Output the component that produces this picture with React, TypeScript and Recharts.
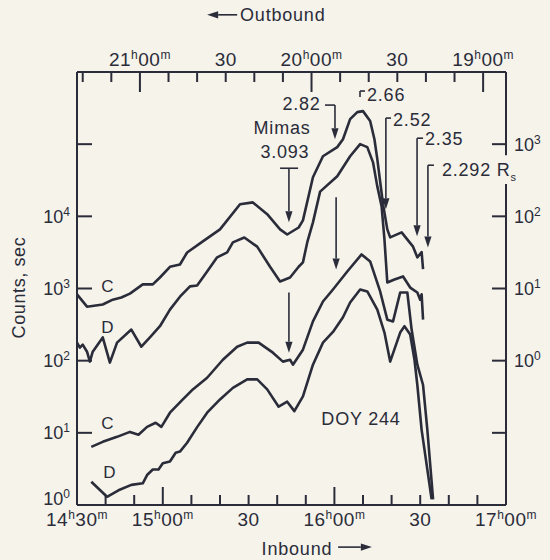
import React from 'react';
import { LineChart, Line, XAxis, YAxis, ReferenceLine, ReferenceDot } from 'recharts';

const INK = '#2b2c3a';
const PAPER = '#f5f3ea';
const FONT = '"Liberation Sans", Arial, sans-serif';

// inbound time in minutes after 00h (UT), counts per second
const upperCTimes = [870, 873.5, 879, 882.5, 885.5, 888.5, 893, 896.5, 899, 902.5, 906, 908.5, 914, 920, 927, 931.5, 936.5, 941, 943.5, 947.5, 949, 952.5, 956, 961, 963, 965.5, 968, 970, 972.5, 974, 975, 977, 978.5, 979.5, 983.5, 987.5, 989, 990.5, 991];
const upperCCounts = [830, 560, 600, 700, 750, 850, 1140, 1140, 1420, 2000, 2150, 3150, 4500, 6600, 14700, 15600, 10700, 6600, 5600, 7000, 8800, 34800, 68000, 91000, 117000, 222000, 278000, 287000, 209000, 117000, 62000, 14700, 6600, 5100, 6000, 3800, 2700, 3200, 1850];

const upperDTimes = [870, 871, 872, 873.5, 874.5, 875.5, 879, 881.5, 884, 889, 892.5, 895.5, 899, 902.5, 906, 909.5, 912, 915.5, 919, 922.5, 924.5, 928.5, 933, 937.5, 941, 944.5, 947.5, 949, 950.5, 952.5, 955, 961, 965.5, 969, 971.5, 973.5, 975, 976.5, 977.5, 978.5, 981, 984, 986.5, 989, 990, 990.5, 991];
const upperDCounts = [178, 152, 167, 133, 97, 133, 210, 94, 178, 270, 156, 210, 300, 510, 770, 1070, 1100, 1720, 2700, 3160, 4350, 5100, 3800, 2000, 1250, 1420, 2000, 2300, 4350, 8250, 22000, 36000, 68000, 100000, 91000, 56000, 26000, 13800, 4800, 1210, 1330, 1470, 1030, 880, 700, 830, 370];

const lowerCTimes = [875, 879, 884, 888.5, 891.5, 894.5, 897.5, 899.5, 902.5, 907, 910.5, 915.5, 921, 926, 929.5, 933.5, 938.5, 942, 944.5, 945.5, 949, 952.5, 956, 959.5, 964.5, 969.5, 972.5, 976, 978.5, 980.5, 983, 985.5, 987, 989, 991, 992.5, 994.5];
const lowerCCounts = [6.4, 7.5, 8.8, 10.3, 9.4, 12.1, 13.8, 12.1, 19, 29, 40, 58, 103, 156, 178, 178, 129, 97, 103, 88, 142, 350, 660, 970, 1720, 2970, 2370, 910, 370, 350, 880, 880, 270, 88, 46, 11, 1.2];

const lowerDTimes = [875, 880.5, 884.5, 889, 893, 894.5, 896.5, 898.5, 900, 902.5, 904.5, 906, 908.5, 912, 915.5, 920, 924.5, 929.5, 933, 936.5, 940.5, 943.5, 946, 949, 952.5, 956, 959.5, 963, 965.5, 969, 971.5, 975, 977.5, 979.5, 983, 984.5, 986.5, 988, 989, 990.5, 994];
const lowerDCounts = [2.1, 1.3, 1.6, 1.9, 2.0, 2.6, 3.1, 3.1, 3.8, 4.0, 5.3, 5.5, 7.3, 12, 19, 29, 42, 55, 55, 40, 23, 27, 20, 32, 88, 178, 250, 400, 640, 970, 910, 510, 245, 97, 245, 300, 230, 103, 46, 11, 1.2];

// axes: inbound (bottom) and outbound (top, running backwards)
const bottomTicks = [870, 880, 890, 900, 910, 920, 930, 940, 950, 960, 970, 980, 990, 1000, 1010, 1020];
const bottomLabelTimes = [870, 900, 930, 960, 990, 1020];
const bottomLabels = ['14h30m', '15h00m', '30', '16h00m', '30', '17h00m'];
const bottomMajor = [900, 960];

const topTicks = [1140, 1150, 1160, 1170, 1180, 1190, 1200, 1210, 1220, 1230, 1240, 1250, 1260, 1270, 1280];
const topLabelTimes = [1260, 1230, 1200, 1170, 1140];
const topLabels = ['21h00m', '30', '20h00m', '30', '19h00m'];
const topMajor = [1260, 1200, 1140];
// outbound time at the left edge of the frame; inbound runs 870..1020 across it
const topStart = 1282;
const inStart = 870;
const inEnd = 1020;
const toInbound = (tOut: number) => inStart + (topStart - tOut);

const leftTicks = [1, 10, 100, 1000, 10000, 100000];
const leftLabelled = [1, 10, 100, 1000, 10000];
const rightTicks = [0.1, 1, 10, 100, 1000];
const rightLabelled = [1, 10, 100, 1000];

// annotations [t1, c1, t2, c2, arrowhead]
const arrows: [number, number, number, number, boolean][] = [
  [941, 46400, 947.3, 46400, false],
  [944.1, 46400, 944.1, 8250, true],
  [956.7, 348000, 960.2, 348000, false],
  [960.2, 348000, 960.2, 117000, true],
  [968.95, 450000, 968.95, 545000, false],
  [968.95, 545000, 970.7, 545000, false],
  [978, 230000, 979.8, 230000, false],
  [978, 230000, 978, 12500, true],
  [988.9, 121000, 991, 121000, false],
  [988.9, 121000, 988.9, 5280, true],
  [992.7, 51100, 994.8, 51100, false],
  [992.7, 51100, 992.7, 3710, true],
  [960.6, 18400, 960.6, 1840, true],
  [944.1, 880, 944.1, 129, true],
  [961.3, 0.261, 973.1, 0.261, true],
  [926, 6.2e6, 915.5, 6.2e6, true],
];

const notes: { t: number; c: number; text: string; anchor?: string; size?: number }[] = [
  { t: 941.7, c: 172000, text: 'Mimas' },
  { t: 942.7, c: 80000, text: '3.093' },
  { t: 948.5, c: 371000, text: '2.82' },
  { t: 971.4, c: 494000, text: '2.66', anchor: 'start' },
  { t: 980.5, c: 222000, text: '2.52', anchor: 'start' },
  { t: 991.7, c: 121000, text: '2.35', anchor: 'start' },
  { t: 969.3, c: 16, text: 'DOY 244' },
  { t: 880.8, c: 1070, text: 'C', size: 17 },
  { t: 880.8, c: 297, text: 'D', size: 17 },
  { t: 880.8, c: 13.8, text: 'C', size: 17 },
  { t: 881.5, c: 2.9, text: 'D', size: 17 },
  { t: 927, c: 6.2e6, text: 'Outbound', anchor: 'start' },
  { t: 946.9, c: 0.253, text: 'Inbound' },
];

const rows = (ts: number[], cs: number[]) => ts.map((t, i) => ({ t, c: cs[i] }));

const clock = (label: string) => {
  const m = label.match(/^(\d+)h(\d+)m$/);
  if (!m) return label;
  return [
    <tspan key="a">{m[1]}</tspan>,
    <tspan key="b" dy={-7} fontSize={12}>h</tspan>,
    <tspan key="c" dy={7}>{m[2]}</tspan>,
    <tspan key="d" dy={-7} fontSize={12}>m</tspan>,
  ];
};

const txt = { fill: INK, fontFamily: FONT } as const;

const BottomTick = (p: any) => {
  const { x, y, payload } = p;
  const v = payload.value;
  const len = bottomMajor.includes(v) ? 18 : 10;
  const i = bottomLabelTimes.indexOf(v);
  return (
    <g>
      <line x1={x} x2={x} y1={y} y2={y - len} stroke={INK} strokeWidth={2} />
      {i >= 0 && (
        <text x={x} y={y + 21} textAnchor="middle" fontSize={19} letterSpacing={0.5} {...txt}>
          {clock(bottomLabels[i])}
        </text>
      )}
    </g>
  );
};

const power = (v: number) => Math.round(Math.log10(v));

const LeftTick = (p: any) => {
  const { x, y, payload } = p;
  const v = payload.value;
  const e = power(v);
  return (
    <g>
      <line x1={x} x2={x + 15} y1={y} y2={y} stroke={INK} strokeWidth={2} />
      {leftLabelled.includes(v) && (
        <text x={x - 7} y={y + 6.5 - (e === 0 ? 7 : 0)} textAnchor="end" fontSize={18} {...txt}>
          10<tspan dy={-7} fontSize={12}>{e}</tspan>
        </text>
      )}
    </g>
  );
};

const RightTick = (p: any) => {
  const { x, y, payload } = p;
  const v = payload.value;
  const e = power(v);
  return (
    <g>
      <line x1={x - 14} x2={x} y1={y} y2={y} stroke={INK} strokeWidth={2} />
      {rightLabelled.includes(v) && (
        <text x={x + 8} y={y + 6.5} textAnchor="start" fontSize={18} {...txt}>
          10<tspan dy={-7} fontSize={12}>{e}</tspan>
        </text>
      )}
    </g>
  );
};

// top frame drawn as one path: the line itself plus the outbound tick marks,
// placed along it in proportion to their time (the time axis is linear)
const topFrameShape = (p: any) => {
  const { x1, y1, x2 } = p;
  const span = x2 - x1;
  let d = `M${x1},${y1}H${x2}`;
  topTicks.forEach((t) => {
    const x = x1 + ((toInbound(t) - inStart) / (inEnd - inStart)) * span;
    d += `M${x},${y1}v${topMajor.includes(t) ? 20 : 10}`;
  });
  return <path d={d} stroke={INK} strokeWidth={2} fill="none" />;
};

const outLabelShape = (label: string) => (p: any) => (
  <text x={p.cx} y={p.cy - 6} textAnchor="middle" fontSize={19} letterSpacing={0.5} {...txt}>
    {clock(label)}
  </text>
);

const arrowShape = (head: boolean, w: number) => (p: any) => {
  const { x1, y1, x2, y2 } = p;
  const a = Math.atan2(y2 - y1, x2 - x1);
  const L = 11;
  const W = 3.6;
  const bx = x2 - L * Math.cos(a);
  const by = y2 - L * Math.sin(a);
  const px = -Math.sin(a) * W;
  const py = Math.cos(a) * W;
  return (
    <g>
      <line x1={x1} y1={y1} x2={head ? bx : x2} y2={head ? by : y2} stroke={INK} strokeWidth={w} />
      {head && <polygon points={`${x2},${y2} ${bx + px},${by + py} ${bx - px},${by - py}`} fill={INK} />}
    </g>
  );
};

const plainLine = (p: any) => <line x1={p.x1} y1={p.y1} x2={p.x2} y2={p.y2} stroke={INK} strokeWidth={2} />;

const seriesStyle = { stroke: INK, strokeWidth: 2.6, strokeLinejoin: 'round' as const };

export default function App() {
  return (
    <div style={{ position: 'absolute', left: 0, top: 0, width: 550, height: 560, background: PAPER }}>
      <LineChart width={550} height={560} margin={{ top: 72, right: 43, bottom: 54, left: 76 }}>
        <XAxis
          xAxisId="bottom"
          dataKey="t"
          type="number"
          domain={[inStart, inEnd]}
          allowDataOverflow
          ticks={bottomTicks}
          interval={0}
          height={1}
          tickSize={0}
          tickMargin={0}
          tickLine={false}
          tick={BottomTick}
          axisLine={{ stroke: INK, strokeWidth: 2 }}
        />
        <YAxis
          yAxisId="left"
          scale="log"
          domain={[1, 1e6]}
          allowDataOverflow
          ticks={leftTicks}
          interval={0}
          width={1}
          tickSize={0}
          tickMargin={0}
          tickLine={false}
          tick={LeftTick}
          axisLine={{ stroke: INK, strokeWidth: 2 }}
        />
        <YAxis
          yAxisId="right"
          orientation="right"
          scale="log"
          domain={[0.01, 1e4]}
          allowDataOverflow
          ticks={rightTicks}
          interval={0}
          width={1}
          tickSize={0}
          tickMargin={0}
          tickLine={false}
          tick={RightTick}
          axisLine={false}
        />

        <Line xAxisId="bottom" yAxisId="left" data={rows(upperCTimes, upperCCounts)} dataKey="c" type="linear" dot={false} isAnimationActive={false} {...seriesStyle} />
        <Line xAxisId="bottom" yAxisId="left" data={rows(upperDTimes, upperDCounts)} dataKey="c" type="linear" dot={false} isAnimationActive={false} {...seriesStyle} />
        <Line xAxisId="bottom" yAxisId="left" data={rows(lowerCTimes, lowerCCounts)} dataKey="c" type="linear" dot={false} isAnimationActive={false} {...seriesStyle} />
        <Line xAxisId="bottom" yAxisId="left" data={rows(lowerDTimes, lowerDCounts)} dataKey="c" type="linear" dot={false} isAnimationActive={false} {...seriesStyle} />

        {/* frame: right side broken by the 2.292 label, top carries the outbound clock */}
        <ReferenceLine xAxisId="bottom" yAxisId="right" segment={[{ x: 1020, y: 1e4 }, { x: 1020, y: 700 }]} ifOverflow="visible" shape={plainLine} />
        <ReferenceLine xAxisId="bottom" yAxisId="right" segment={[{ x: 1020, y: 280 }, { x: 1020, y: 0.01 }]} ifOverflow="visible" shape={plainLine} />
        <ReferenceLine xAxisId="bottom" yAxisId="right" segment={[{ x: inStart, y: 1e4 }, { x: inEnd, y: 1e4 }]} ifOverflow="visible" shape={topFrameShape} />
        {topLabelTimes.map((t, i) => (
          <ReferenceDot
            key={`tl${t}`}
            xAxisId="bottom"
            yAxisId="right"
            x={toInbound(t)}
            y={1e4}
            r={0}
            ifOverflow="visible"
            shape={outLabelShape(topLabels[i])}
          />
        ))}

        {arrows.map(([t1, c1, t2, c2, head], i) => (
          <ReferenceLine
            key={`a${i}`}
            xAxisId="bottom"
            yAxisId="left"
            segment={[{ x: t1, y: c1 }, { x: t2, y: c2 }]}
            ifOverflow="visible"
            shape={arrowShape(head, 1.6)}
          />
        ))}

        {notes.map((n, i) => (
          <ReferenceDot
            key={`n${i}`}
            xAxisId="bottom"
            yAxisId="left"
            x={n.t}
            y={n.c}
            r={0}
            ifOverflow="visible"
            shape={(p: any) => (
              <text x={p.cx} y={p.cy} dy="0.36em" textAnchor={n.anchor ?? 'middle'} fontSize={n.size ?? 18} letterSpacing={0.8} {...txt}>
                {n.text}
              </text>
            )}
          />
        ))}

        <ReferenceDot
          xAxisId="bottom"
          yAxisId="left"
          x={997.6}
          y={45000}
          r={0}
          ifOverflow="visible"
          shape={(p: any) => (
            <text x={p.cx} y={p.cy} dy="0.36em" textAnchor="start" fontSize={18} letterSpacing={0.8} {...txt}>
              2.292 R<tspan dy={5} fontSize={11}>s</tspan>
            </text>
          )}
        />
        <ReferenceDot
          xAxisId="bottom"
          yAxisId="left"
          x={849.4}
          y={1030}
          r={0}
          ifOverflow="visible"
          shape={(p: any) => (
            <text x={p.cx} y={p.cy} dy="0.36em" textAnchor="middle" fontSize={18} letterSpacing={0.6} transform={`rotate(-90 ${p.cx} ${p.cy})`} {...txt}>
              Counts, sec
            </text>
          )}
        />
      </LineChart>
    </div>
  );
}
